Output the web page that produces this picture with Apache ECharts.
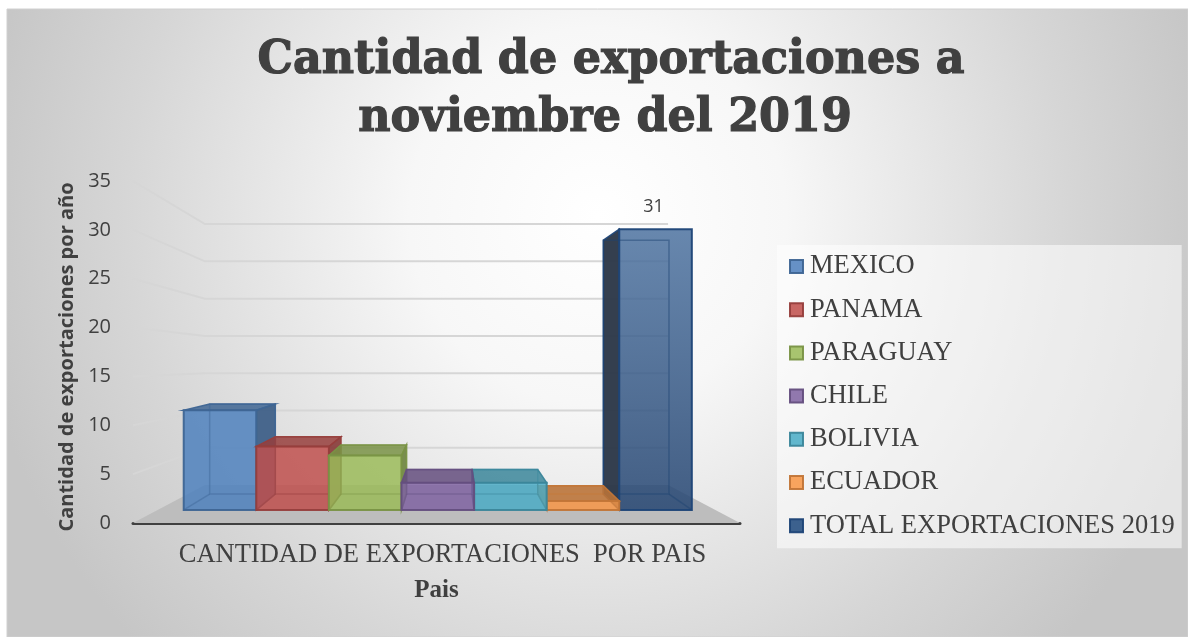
<!DOCTYPE html>
<html>
<head>
<meta charset="utf-8">
<script src="https://cdn.jsdelivr.net/npm/echarts@6/dist/echarts.min.js"></script>
<style>
html,body{margin:0;padding:0;background:#ffffff;}
#chart{width:1188px;height:637px;}
</style>
</head>
<body>
<div id="chart"></div>
<script>
// ---------------- DATA ----------------
const titleLines = ['Cantidad de exportaciones a', 'noviembre del 2019'];
const categories = ['CANTIDAD DE EXPORTACIONES  POR PAIS'];
const countries = ['MEXICO', 'PANAMA', 'PARAGUAY', 'CHILE', 'BOLIVIA', 'ECUADOR', 'TOTAL EXPORTACIONES 2019'];
const values = [11, 7, 6, 3, 3, 1, 31];
const yTicks = [0, 5, 10, 15, 20, 25, 30, 35];
const labeledSeries = ['TOTAL EXPORTACIONES 2019'];
const xAxisName = 'Pais';
const yAxisName = 'Cantidad de exportaciones por año';

// ---------------- STYLE ----------------
const baseColors = ['#4F81BD', '#C0504D', '#9BBB59', '#8064A2', '#4BACC6', '#F79646', '#1F497D'];
const TEXT = '#404040';
const GRID_LINE = '#d6d6d6';
// perspective parameters (layout only)
const VP_VALUE = 18.3;       // bars: vertical vanishing level, in axis units
const VP_DX = 0.0288;        // bars: horizontal vanishing offset, fraction of category width
const WALL_VP_VALUE = 16.4;  // walls
const WALL_VP_DX = 0.0;
const BAR_SPAN = 0.903;      // fraction of category width covered by the bars
const S_FRONT = 0.927, S_BACK = 0.838, S_WALL = 0.763;

function hexToRgb(h) { const n = parseInt(h.slice(1), 16); return [n >> 16 & 255, n >> 8 & 255, n & 255]; }
function rgba(c, a) { return 'rgba(' + c.map(v => Math.round(v)).join(',') + ',' + a + ')'; }
function mix(c1, c2, t) { return c1.map((v, i) => v + (c2[i] - v) * t); }

const palette = baseColors.map((h, i) => {
  const c = hexToRgb(h);
  const isTotal = i === baseColors.length - 1;
  return {
    front: isTotal ? {
      type: 'linear', x: 0, y: 0, x2: 0, y2: 1,
      colorStops: [{ offset: 0, color: 'rgba(79,116,161,0.86)' }, { offset: 1, color: 'rgba(38,70,114,0.86)' }]
    } : rgba(c, 0.85),
    legend: rgba(mix(c, [255, 255, 255], 0.13), 1),
    edge: rgba(mix(c, [0, 0, 0], isTotal ? 0.05 : 0.22), 0.95),
    inner: rgba(mix(c, [0, 0, 0], isTotal ? 0.1 : 0.2), 0.45),
    side: isTotal ? 'rgba(45,57,73,0.97)' : rgba(mix(c, [0, 0, 0], 0.3), 0.9),
    top: isTotal ? 'rgba(45,57,73,0.97)' : rgba(mix(c, [0, 0, 0], 0.22), 0.85)
  };
});

function geom(api, vpValue, vpDx) {
  const c0 = api.coord([0, 0]);
  const cV = api.coord([0, vpValue]);
  const catW = api.size([1, 0])[0];
  const vx = c0[0] + vpDx * catW, vy = cV[1];
  const P = (x, y, s) => [vx + (x - vx) * s, vy + (y - vy) * s];
  return { c0, catW, vx, vy, P };
}

function renderWall(params, api) {
  const v = api.value(1);
  const g = geom(api, WALL_VP_VALUE, WALL_VP_DX);
  const y = api.coord([0, v])[1];
  const L = g.c0[0] - g.catW / 2, R = g.c0[0] + g.catW / 2;
  if (v === 0) {
    return {
      type: 'polygon',
      shape: { points: [[L, y], [R, y], g.P(R, y, S_WALL), g.P(L, y, S_WALL)] },
      style: { fill: '#bdbdbd', stroke: null }
    };
  }
  return {
    type: 'polyline',
    shape: { points: [[L, y], g.P(L, y, S_WALL), g.P(R, y, S_WALL)] },
    style: { stroke: GRID_LINE, lineWidth: 2, fill: null }
  };
}

function makeBarRender(i) {
  const col = palette[i];
  const n = countries.length;
  return function (params, api) {
    const v = api.value(1);
    const g = geom(api, VP_VALUE, VP_DX);
    const yb = g.c0[1], yt = api.coord([0, v])[1];
    const bw = BAR_SPAN * g.catW / n;
    const x0 = g.c0[0] - BAR_SPAN * g.catW / 2 + i * bw, x1 = x0 + bw;
    const f = [g.P(x0, yb, S_FRONT), g.P(x1, yb, S_FRONT), g.P(x1, yt, S_FRONT), g.P(x0, yt, S_FRONT)];
    const b = [g.P(x0, yb, S_BACK), g.P(x1, yb, S_BACK), g.P(x1, yt, S_BACK), g.P(x0, yt, S_BACK)];
    const children = [];
    // visible side
    if (f[1][0] <= g.vx) {
      children.push({ type: 'polygon', shape: { points: [f[1], b[1], b[2], f[2]] }, style: { fill: col.side, stroke: col.edge, lineWidth: 1.5 } });
    } else if (f[0][0] >= g.vx) {
      children.push({ type: 'polygon', shape: { points: [f[0], b[0], b[3], f[3]] }, style: { fill: col.side, stroke: col.edge, lineWidth: 1.5 } });
    }
    // top
    if (yt > g.vy) {
      children.push({ type: 'polygon', shape: { points: [f[3], f[2], b[2], b[3]] }, style: { fill: col.top, stroke: col.edge, lineWidth: 1.5 } });
    }
    // front
    children.push({ type: 'polygon', shape: { points: f }, style: { fill: col.front, stroke: col.edge, lineWidth: 2 } });
    // hidden edges seen through the translucent box
    children.push({ type: 'polygon', shape: { points: b }, style: { fill: null, stroke: col.inner, lineWidth: 1.5 } });
    children.push({ type: 'line', shape: { x1: f[0][0], y1: f[0][1], x2: b[0][0], y2: b[0][1] }, style: { stroke: col.inner, lineWidth: 1.5 } });
    children.push({ type: 'line', shape: { x1: f[1][0], y1: f[1][1], x2: b[1][0], y2: b[1][1] }, style: { stroke: col.inner, lineWidth: 1.5 } });
    if (labeledSeries.indexOf(countries[i]) >= 0) {
      children.push({
        type: 'text',
        style: {
          text: String(v), x: (f[2][0] + f[3][0]) / 2 - 2, y: f[3][1] - 22,
          align: 'center', verticalAlign: 'middle',
          font: '18px "Open Sans"', fill: TEXT
        }
      });
    }
    return { type: 'group', children: children };
  };
}

// order so bars nearer the vanishing point are drawn later
function zFor(i) { const order = [1, 2, 3, 4, 3.5, 2.5, 1.5]; return 3 + order[i]; }

const series = [{
  name: '__walls',
  type: 'custom',
  z: 1,
  silent: true,
  renderItem: renderWall,
  encode: { x: 0, y: 1 },
  data: yTicks.map(t => [0, t])
}];
countries.forEach((name, i) => {
  series.push({
    name: name,
    type: 'custom',
    z: zFor(i),
    renderItem: makeBarRender(i),
    encode: { x: 0, y: 1 },
    itemStyle: { color: palette[i].legend, borderColor: palette[i].edge, borderWidth: 2 },
    data: [[0, values[i]]]
  });
});

// title measurement (scale to the reference width)
const TITLE_FONT = 'bold 47px "DejaVu Serif"';
const mctx = document.createElement('canvas').getContext('2d');
mctx.font = TITLE_FONT;
const tw = mctx.measureText(titleLines[0]).width;
const tScale = tw > 0 ? 707 / tw : 1;

const chart = echarts.init(document.getElementById('chart'));
chart.setOption({
  animation: false,
  graphic: [
    {
      type: 'rect', z: -100, silent: true,
      shape: { x: 7, y: 9, width: 1181, height: 628 },
      style: {
        fill: {
          type: 'radial', x: 0.5, y: 0.33, r: 1.0,
          colorStops: [
            { offset: 0, color: '#ffffff' },
            { offset: 0.3, color: '#f7f7f7' },
            { offset: 0.75, color: '#d6d6d6' },
            { offset: 1, color: '#c6c6c6' }
          ]
        },
        stroke: '#d0d0d0', lineWidth: 1
      }
    },
    {
      type: 'text', x: 611, y: 61, scaleX: tScale, z: 10,
      style: { x: 0, y: 0, text: titleLines[0], font: TITLE_FONT, fill: TEXT, stroke: TEXT, lineWidth: 1.2, align: 'center', verticalAlign: 'middle' }
    },
    {
      type: 'text', x: 605, y: 119, scaleX: tScale, z: 10,
      style: { x: 0, y: 0, text: titleLines[1], font: TITLE_FONT, fill: TEXT, stroke: TEXT, lineWidth: 1.2, align: 'center', verticalAlign: 'middle' }
    }
  ],
  grid: { left: 133, right: 448, top: 181, bottom: 114, containLabel: false },
  legend: {
    orient: 'vertical', left: 777, top: 245,
    padding: [8, 7, 9, 12], itemGap: 16.2, itemWidth: 13, itemHeight: 13,
    backgroundColor: 'rgba(255,255,255,0.55)',
    textStyle: { fontFamily: '"Liberation Serif"', fontSize: 26.5, color: TEXT, padding: [0, 0, 0, 2] },
    data: countries.map((n, i) => ({
      name: n, icon: 'rect',
      itemStyle: { color: palette[i].legend, borderColor: palette[i].edge, borderWidth: 2 }
    }))
  },
  xAxis: {
    type: 'category',
    data: categories,
    name: xAxisName, nameLocation: 'middle', nameGap: 55,
    nameTextStyle: { fontFamily: '"Liberation Serif"', fontWeight: 'bold', fontSize: 25, color: TEXT },
    axisLine: { show: true, lineStyle: { color: '#404040', width: 3 } },
    axisTick: { show: false },
    axisLabel: { margin: 19, fontFamily: '"Liberation Serif"', fontSize: 26.5, color: TEXT, padding: [0, 0, 0, 12] },
    splitLine: { show: false }
  },
  yAxis: {
    type: 'value', min: 0, max: 35, interval: 5,
    name: yAxisName, nameLocation: 'middle', nameRotate: 90, nameGap: 55,
    nameTextStyle: { fontFamily: '"Open Sans"', fontWeight: 'bold', fontSize: 20, color: TEXT, padding: [0, 10, 0, 0] },
    axisLine: { show: false }, axisTick: { show: false },
    axisLabel: { margin: 22, fontFamily: '"Open Sans"', fontSize: 20, color: TEXT,
      formatter: v => (yTicks.indexOf(v) >= 0 ? String(v) : '') },
    splitLine: { show: false }
  },
  series: series
});
</script>
</body>
</html>
